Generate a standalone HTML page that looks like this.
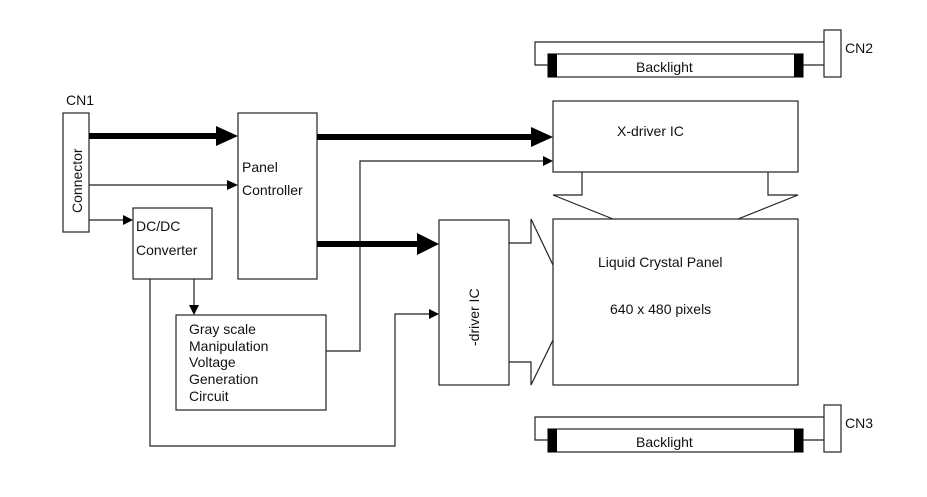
<!DOCTYPE html>
<html><head><style>body{margin:0;background:#fff}</style></head><body>
<svg width="927" height="492" xmlns="http://www.w3.org/2000/svg" font-family="Liberation Sans, sans-serif" font-size="14">
<g fill="none" stroke="#222" stroke-width="1.2">
<polyline points="548,65 535,65 535,42 824,42"/>
<line x1="803" y1="65" x2="824" y2="65"/>
<rect x="548" y="54" width="255" height="23" fill="#fff"/>
<rect x="824" y="30" width="17" height="47" fill="#fff"/>
<polyline points="548,440 535,440 535,417 824,417"/>
<line x1="803" y1="440" x2="824" y2="440"/>
<rect x="548" y="429" width="255" height="23" fill="#fff"/>
<rect x="824" y="405" width="17" height="47" fill="#fff"/>
<rect x="63" y="113" width="26" height="119"/>
<rect x="238" y="113" width="79" height="166"/>
<rect x="133" y="208" width="79" height="71"/>
<rect x="176" y="315" width="150" height="95"/>
<rect x="439" y="220" width="70" height="165"/>
<rect x="553" y="101" width="245" height="71"/>
<rect x="553" y="219" width="245" height="166"/>
<polyline points="582,172 582,195 553,195 613,219"/>
<polyline points="768,172 768,195 798,195 738,219"/>
<polyline points="509,243 531,243 531,219 553,265"/>
<polyline points="509,362 531,362 531,385 553,340"/>
<polyline points="326,351 360,351 360,161 543,161" />
<polyline points="150,279 150,446 395,446 395,314 429,314"/>
<line x1="89" y1="185" x2="227" y2="185"/>
<line x1="89" y1="220" x2="123" y2="220"/>
<line x1="194" y1="279" x2="194" y2="305"/>
</g>
<g fill="#000">
<rect x="548" y="54" width="9" height="23"/><rect x="794" y="54" width="9" height="23"/>
<rect x="548" y="429" width="9" height="23"/><rect x="794" y="429" width="9" height="23"/>
<path d="M543,156L553,161L543,166z"/>
<path d="M429,309L439,314L429,319z"/>
<path d="M227,180L238,185L227,190z"/>
<path d="M123,215L133,220L123,225z"/>
<path d="M189,305L194,315L199,305z"/>
<rect x="89" y="133" width="128" height="6"/><path d="M216,126L238,136L216,146z"/>
<rect x="317" y="134" width="216" height="6"/><path d="M531,127L553,137L531,147z"/>
<rect x="317" y="241" width="102" height="6"/><path d="M417,233L439,244L417,255z"/>
</g>
<g fill="#111">
<text x="66" y="105">CN1</text>
<text x="845" y="53">CN2</text>
<text x="845" y="428">CN3</text>
<text x="636" y="72">Backlight</text>
<text x="636" y="447">Backlight</text>
<text transform="translate(82,213) rotate(-90)">Connector</text>
<text x="242" y="172">Panel</text>
<text x="242" y="195">Controller</text>
<text x="136" y="231">DC/DC</text>
<text x="136" y="255">Converter</text>
<text x="189" y="334">Gray scale</text>
<text x="189" y="351">Manipulation</text>
<text x="189" y="367">Voltage</text>
<text x="189" y="384">Generation</text>
<text x="189" y="401">Circuit</text>
<text transform="translate(479,346) rotate(-90)">-driver IC</text>
<text x="617" y="136">X-driver IC</text>
<text x="598" y="267">Liquid Crystal Panel</text>
<text x="610" y="314">640 x 480 pixels</text>
</g>
</svg>
</body></html>
